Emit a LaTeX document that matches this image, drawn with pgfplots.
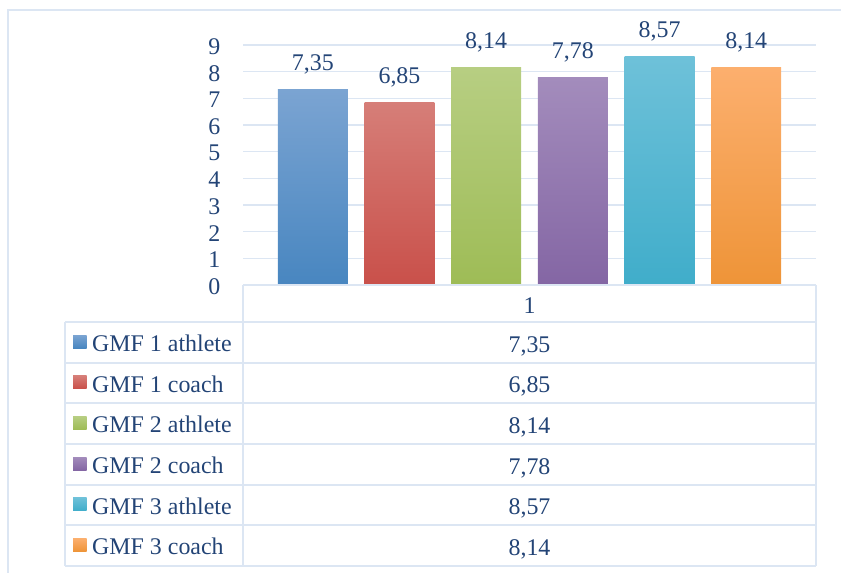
\documentclass[border=0pt]{standalone}
\usepackage{pgfplots}
\usepackage{pgfplotstable}
\pgfplotsset{compat=1.18}
\usepackage{fontspec}
\setmainfont{Liberation Serif}

\definecolor{txtblue}{RGB}{35,68,118}
\definecolor{gridblue}{RGB}{220,230,243}
\definecolor{blueT}{RGB}{123,164,210}
\definecolor{blueB}{RGB}{72,134,192}
\definecolor{redT}{RGB}{214,126,120}
\definecolor{redB}{RGB}{201,80,74}
\definecolor{greenT}{RGB}{183,206,130}
\definecolor{greenB}{RGB}{158,188,86}
\definecolor{purpleT}{RGB}{163,140,188}
\definecolor{purpleB}{RGB}{132,102,164}
\definecolor{cyanT}{RGB}{110,193,217}
\definecolor{cyanB}{RGB}{64,173,202}
\definecolor{orangeT}{RGB}{252,175,110}
\definecolor{orangeB}{RGB}{238,148,56}

\newcommand{\chartfont}{\fontsize{24}{29}\selectfont}
% numbers with a decimal comma, set in the text font
\pgfkeys{/pgf/number format/.cd, fixed, precision=2, fixed zerofill, use comma, assume math mode=true}

% mean GMF scores, one row per series
\pgfplotstableread{
idx value
0 7.35
1 6.85
2 8.14
3 7.78
4 8.57
5 8.14
}\scores

\pgfplotsset{
  gmfbar/.style n args={3}{draw=none, top color=#1, bottom color=#2, bar shift=0pt,
    restrict expr to domain={\coordindex}{#3:#3}},
}

\begin{document}
\begin{tikzpicture}
% page frame, measured from the top-left corner
\begin{scope}[x=1bp, y=-1bp]
\path[use as bounding box] (0,0) rectangle (841,573);
\draw[gridblue, line width=1.5bp] (8,573) -- (8,10) -- (841,10);
\end{scope}

\begin{axis}[
  at={(243bp,-285bp)}, anchor=south west,
  scale only axis, width=573bp, height=240bp,
  xmin=-3.305, xmax=3.305, ymin=0, ymax=9,
  ybar, bar width=0.807,
  axis line style={draw=none},
  xtick=\empty, ytick={0,...,9},
  major tick length=0pt,
  ymajorgrids, grid style={gridblue, line width=1.5bp},
  yticklabel={\pgfmathprintnumber[int detect]{\tick}},
  yticklabel style={font=\chartfont, text=txtblue, anchor=east, inner sep=0pt, xshift=-22.5bp, yshift=-1.5bp},
  nodes near coords={\pgfmathprintnumber{\pgfplotspointmeta}},
  nodes near coords style={font=\chartfont, text=txtblue, anchor=base, inner sep=0pt, yshift=19bp},
  clip=false,
]
\addplot[gmfbar={blueT}{blueB}{0}]     table[x expr=\thisrow{idx}-2.5, y=value] \scores;
\addplot[gmfbar={redT}{redB}{1}]       table[x expr=\thisrow{idx}-2.5, y=value] \scores;
\addplot[gmfbar={greenT}{greenB}{2}]   table[x expr=\thisrow{idx}-2.5, y=value] \scores;
\addplot[gmfbar={purpleT}{purpleB}{3}] table[x expr=\thisrow{idx}-2.5, y=value] \scores;
\addplot[gmfbar={cyanT}{cyanB}{4}]     table[x expr=\thisrow{idx}-2.5, y=value] \scores;
\addplot[gmfbar={orangeT}{orangeB}{5}] table[x expr=\thisrow{idx}-2.5, y=value] \scores;
\end{axis}

\begin{scope}[x=1bp, y=-1bp]
% data table grid
\begin{scope}[gridblue, line width=2bp]
  \draw (243,285) -- (816,285);
  \draw (243,285) -- (243,566);
  \draw (816,285) -- (816,566);
  \draw (65,322) -- (65,566);
  \foreach \k in {0,...,6} {
    \draw (65,322+40.67*\k) -- (816,322+40.67*\k);
  }
\end{scope}

% category header
\node[font=\chartfont, text=txtblue, anchor=base, inner sep=0pt] at (529.5,313) {1};

% series keys, names and values
\foreach \i/\name/\ct/\cb in {0/GMF 1 athlete/blueT/blueB, 1/GMF 1 coach/redT/redB,
    2/GMF 2 athlete/greenT/greenB, 3/GMF 2 coach/purpleT/purpleB,
    4/GMF 3 athlete/cyanT/cyanB, 5/GMF 3 coach/orangeT/orangeB} {
  \shade[top color=\ct, bottom color=\cb] (73,335+40.67*\i) rectangle (86.5,348+40.67*\i);
  \node[font=\chartfont, text=txtblue, anchor=base west, inner sep=0pt] at (92,351.5+40.67*\i) {\name};
  \pgfplotstablegetelem{\i}{value}\of\scores
  \node[font=\chartfont, text=txtblue, anchor=base, inner sep=0pt] at (529.5,352+40.67*\i)
    {\pgfmathprintnumber{\pgfplotsretval}};
}
\end{scope}
\end{tikzpicture}
\end{document}
